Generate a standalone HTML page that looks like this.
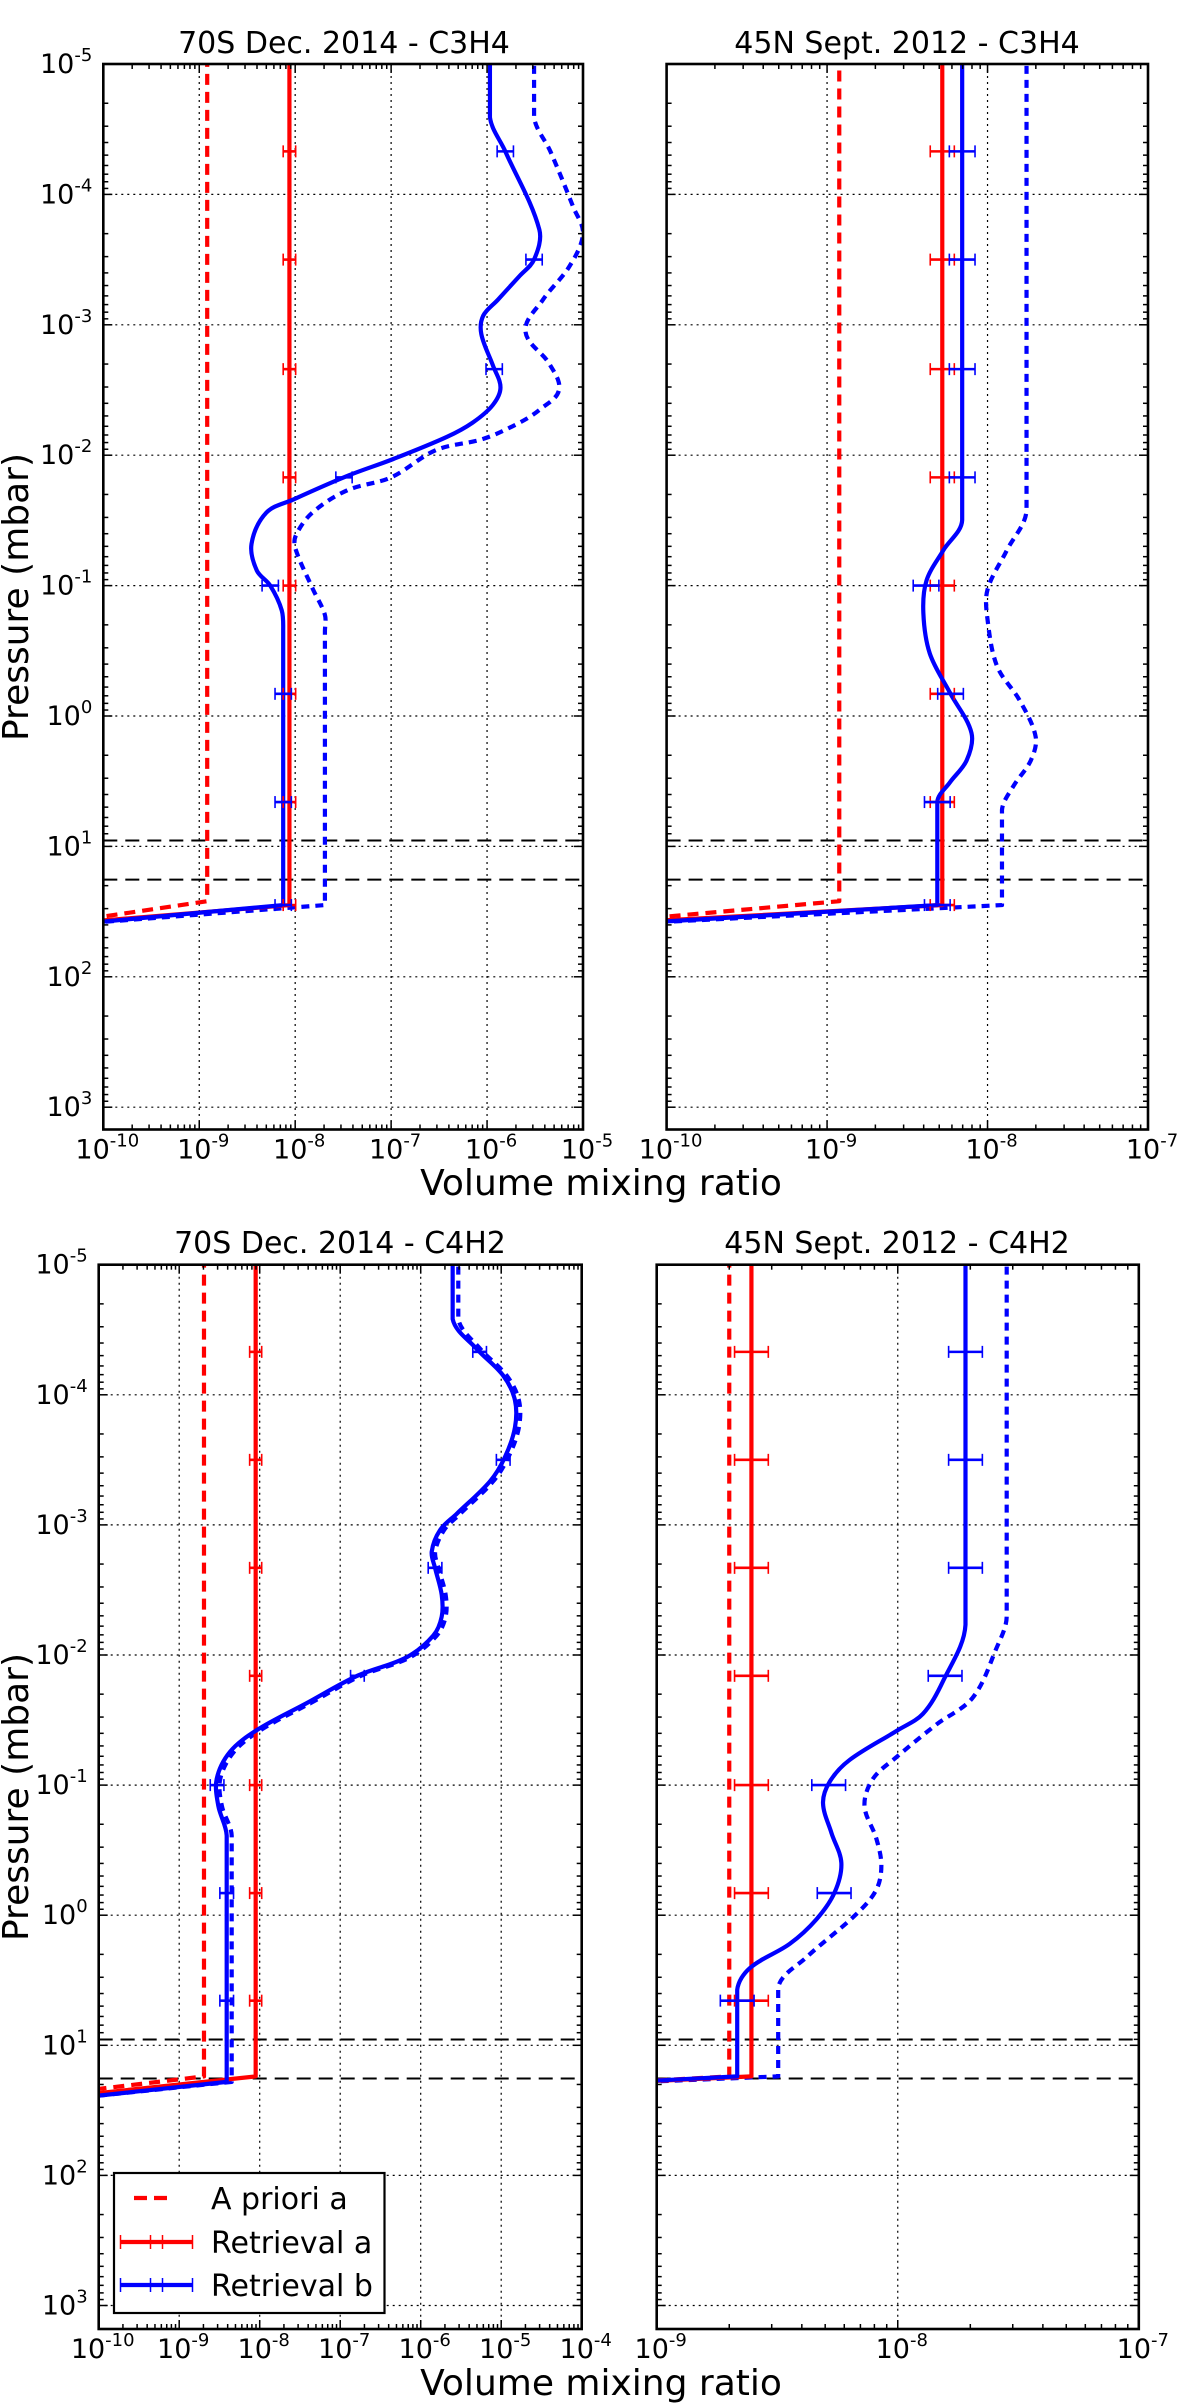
<!DOCTYPE html>
<html><head><meta charset="utf-8"><title>Vertical profiles</title>
<style>
html,body{margin:0;padding:0;background:#fff;}
svg{display:block;font-family:"DejaVu Sans","Liberation Sans",sans-serif;}
</style></head>
<body>
<svg id="fig" width="1200" height="2405" viewBox="0 0 1200 2405" xmlns="http://www.w3.org/2000/svg">
<rect width="1200" height="2405" fill="#fff"/>
<text x="601" y="1195" font-size="36" text-anchor="middle">Volume mixing ratio</text>
<text x="601" y="2395" font-size="36" text-anchor="middle">Volume mixing ratio</text>
<text transform="translate(28,597) rotate(-90)" font-size="36" text-anchor="middle">Pressure (mbar)</text>
<text transform="translate(28,1797) rotate(-90)" font-size="36" text-anchor="middle">Pressure (mbar)</text>
</svg>
<script>
// ---------- DATA (log10 pressure [mbar], log10 volume mixing ratio) ----------
const errPressLogTop = [-4.33,-3.5,-2.66,-1.83,-1.0,-0.17,0.66,1.45];
const errPressLogBottom = [-4.33,-3.5,-2.67,-1.84,-1.0,-0.17,0.657];

// Panel 1: 70S Dec. 2014 - C3H4
const p1AprioriA_P = [-5.2,1.42,1.56];
const p1AprioriA_X = [-8.917,-8.917,-10.2];
const p1RetA_P = [-5.2,1.45,1.58];
const p1RetA_X = [-8.06,-8.06,-10.2];
const p1RetB_P = [-5.2,-4.59,-4.33,-3.73,-3.5,-3.375,-3.19,-3.07,-2.93,-2.69,-2.52,-2.385,-2.25,-2.14,-1.97,-1.84,-1.66,-1.56,-1.32,-1.116,-1.0,-0.81,-0.65,1.45,1.59];
const p1RetB_X = [-5.97,-5.97,-5.81,-5.455,-5.51,-5.66,-5.89,-6.04,-6.06,-5.94,-5.86,-5.94,-6.15,-6.42,-6.98,-7.46,-8.02,-8.30,-8.455,-8.40,-8.26,-8.14,-8.125,-8.125,-10.2];
const p1AprioriB_P = [-5.2,-4.59,-4.33,-3.9,-3.70,-3.45,-3.19,-2.95,-2.7,-2.5,-2.35,-2.25,-2.125,-2.04,-1.83,-1.73,-1.56,-1.39,-1.29,-0.98,-0.775,-0.65,1.45,1.59];
const p1AprioriB_X = [-5.51,-5.51,-5.34,-5.1,-5.0,-5.14,-5.42,-5.6,-5.35,-5.25,-5.45,-5.66,-6.04,-6.53,-7.0,-7.46,-7.82,-7.99,-8.0,-7.82,-7.69,-7.69,-7.69,-10.2];
const p1ErrA = 0.065, p1ErrB = 0.085;

// Panel 2: 45N Sept. 2012 - C3H4
const p2AprioriA_P = [-4.95,1.42,1.56];
const p2AprioriA_X = [-8.924,-8.924,-10.2];
const p2RetA_P = [-5.2,1.45,1.58];
const p2RetA_X = [-8.282,-8.282,-10.2];
const p2RetB_P = [-5.2,-1.503,-1.27,-1.04,-0.79,-0.48,-0.18,0.13,0.34,0.51,0.657,1.45,1.59];
const p2RetB_X = [-8.158,-8.158,-8.276,-8.38,-8.40,-8.36,-8.235,-8.10,-8.13,-8.235,-8.313,-8.313,-10.2];
const p2AprioriB_P = [-5.2,-1.58,-1.27,-0.97,-0.74,-0.38,-0.12,0.16,0.34,0.54,0.72,1.45,1.59];
const p2AprioriB_X = [-7.757,-7.757,-7.88,-8.0,-8.0,-7.94,-7.80,-7.70,-7.73,-7.84,-7.91,-7.91,-10.2];
const p2ErrA = 0.075, p2ErrB = 0.08;

// Panel 3: 70S Dec. 2014 - C4H2
const p3AprioriA_P = [-5.2,1.239,1.35];
const p3AprioriA_X = [-8.692,-8.692,-10.2];
const p3RetA_P = [-5.2,1.239,1.38];
const p3RetA_X = [-8.05,-8.05,-10.2];
const p3RetB_P = [-5.2,-4.582,-4.353,-4.146,-3.958,-3.75,-3.522,-3.335,-3.085,-2.96,-2.794,-2.67,-2.462,-2.295,-2.15,-1.983,-1.838,-1.63,-1.422,-1.256,-1.048,-0.84,-0.611,1.281,1.40];
const p3RetB_X = [-5.603,-5.603,-5.305,-4.973,-4.829,-4.829,-4.953,-5.139,-5.553,-5.76,-5.863,-5.822,-5.739,-5.739,-5.843,-6.174,-6.795,-7.416,-8.037,-8.369,-8.534,-8.514,-8.41,-8.41,-10.2];
const p3AprioriB_P = [-5.2,-4.582,-4.353,-4.146,-3.958,-3.75,-3.522,-3.335,-3.085,-2.96,-2.794,-2.67,-2.462,-2.295,-2.15,-1.983,-1.838,-1.63,-1.422,-1.256,-1.048,-0.84,-0.611,1.281,1.40];
const p3AprioriB_X = [-5.533,-5.533,-5.26,-4.93,-4.78,-4.78,-4.91,-5.10,-5.51,-5.71,-5.82,-5.78,-5.69,-5.69,-5.80,-6.13,-6.75,-7.37,-7.99,-8.32,-8.49,-8.47,-8.348,-8.348,-10.2];
const p3ErrA = 0.075, p3ErrB = 0.085;

// Panel 4: 45N Sept. 2012 - C4H2
const p4AprioriA_P = [-5.2,1.239,1.30];
const p4AprioriA_X = [-8.699,-8.699,-9.3];
const p4RetA_P = [-5.2,1.239,1.30];
const p4RetA_X = [-8.607,-8.607,-9.3];
const p4RetB_P = [-5.2,-2.233,-1.796,-1.547,-1.422,-1.193,-1.027,-0.861,-0.632,-0.403,-0.175,0.033,0.22,0.407,0.574,1.239,1.30];
const p4RetB_X = [-7.719,-7.719,-7.813,-7.896,-8.0,-8.2,-8.282,-8.31,-8.275,-8.234,-8.262,-8.338,-8.448,-8.614,-8.666,-8.666,-9.3];
const p4AprioriB_P = [-5.2,-2.295,-2.046,-1.672,-1.464,-1.214,-1.048,-0.84,-0.59,-0.383,-0.195,-0.008,0.324,0.553,1.239,1.30];
const p4AprioriB_X = [-7.548,-7.548,-7.592,-7.689,-7.841,-8.006,-8.103,-8.138,-8.089,-8.068,-8.089,-8.172,-8.379,-8.496,-8.496,-9.3];
const p4ErrA = 0.07, p4ErrB = 0.07;

const boundaryLinesP = [0.955, 1.255];
const yTickExps = [-5,-4,-3,-2,-1,0,1,2,3];

// ---------- RENDERING ----------
const NS = "http://www.w3.org/2000/svg";
const svg = document.getElementById('fig');
function mk(tag, attrs, parent){const e=document.createElementNS(NS,tag);for(const k in attrs)e.setAttribute(k,attrs[k]);(parent||svg).appendChild(e);return e;}

const panels = [
 {id:'p1', title:'70S Dec. 2014 - C3H4', left:103.3, right:583, xMin:-10, xMax:-5, top:64, dec:130.4, bottom:1129.5, yLabels:true, titleX:344, titleY:53,
  aA:[p1AprioriA_P,p1AprioriA_X], rA:[p1RetA_P,p1RetA_X], rB:[p1RetB_P,p1RetB_X], aB:[p1AprioriB_P,p1AprioriB_X], eA:p1ErrA, eB:p1ErrB, errP:errPressLogTop},
 {id:'p2', title:'45N Sept. 2012 - C3H4', left:666.6, right:1148, xMin:-10, xMax:-7, top:64, dec:130.4, bottom:1129.5, yLabels:false, titleX:907, titleY:53,
  aA:[p2AprioriA_P,p2AprioriA_X], rA:[p2RetA_P,p2RetA_X], rB:[p2RetB_P,p2RetB_X], aB:[p2AprioriB_P,p2AprioriB_X], eA:p2ErrA, eB:p2ErrB, errP:errPressLogTop},
 {id:'p3', title:'70S Dec. 2014 - C4H2', left:98.7, right:581.7, xMin:-10, xMax:-4, top:1264.7, dec:130.1, bottom:2329, yLabels:true, titleX:340, titleY:1253,
  aA:[p3AprioriA_P,p3AprioriA_X], rA:[p3RetA_P,p3RetA_X], rB:[p3RetB_P,p3RetB_X], aB:[p3AprioriB_P,p3AprioriB_X], eA:p3ErrA, eB:p3ErrB, errP:errPressLogBottom},
 {id:'p4', title:'45N Sept. 2012 - C4H2', left:656.7, right:1138.8, xMin:-9, xMax:-7, top:1264.7, dec:130.1, bottom:2329, yLabels:false, titleX:897, titleY:1253,
  aA:[p4AprioriA_P,p4AprioriA_X], rA:[p4RetA_P,p4RetA_X], rB:[p4RetB_P,p4RetB_X], aB:[p4AprioriB_P,p4AprioriB_X], eA:p4ErrA, eB:p4ErrB, errP:errPressLogBottom}
];

function interp(P, X, p){
  for(let i=0;i<P.length-1;i++){ if(p>=P[i] && p<=P[i+1]){ const t=(p-P[i])/(P[i+1]-P[i]||1); return X[i]+t*(X[i+1]-X[i]); } }
  return X[X.length-1];
}
function tangent(pts, i){
  const n = pts.length;
  const a = pts[Math.max(0,i-1)], b = pts[Math.min(n-1,i+1)];
  let dx = b[0]-a[0], dy = b[1]-a[1];
  const L = Math.hypot(dx,dy) || 1;
  return [dx/L, dy/L];
}
function smoothPath(pts){
  const n = pts.length;
  let d = 'M'+pts[0][0].toFixed(2)+','+pts[0][1].toFixed(2);
  for(let i=0;i<n-1;i++){
    const p1=pts[i], p2=pts[i+1];
    if(i===0 || i>=n-3){ d+=' L'+p2[0].toFixed(2)+','+p2[1].toFixed(2); continue; }
    const len = Math.hypot(p2[0]-p1[0], p2[1]-p1[1])/3;
    const t1 = tangent(pts,i), t2 = tangent(pts,i+1);
    const c1=[p1[0]+t1[0]*len, p1[1]+t1[1]*len];
    const c2=[p2[0]-t2[0]*len, p2[1]-t2[1]*len];
    d+=' C'+c1[0].toFixed(2)+','+c1[1].toFixed(2)+' '+c2[0].toFixed(2)+','+c2[1].toFixed(2)+' '+p2[0].toFixed(2)+','+p2[1].toFixed(2);
  }
  return d;
}
function pow10Label(parent, x, y, exp, anchor, nm){
  const t = mk('text',{x:x,y:y,'font-size':27,'text-anchor':anchor}, parent);
  
  
  t.appendChild(document.createTextNode('10'));
  const s = mk('tspan',{dy:-12,'font-size':18}, t);
  s.textContent = String(exp);
  return t;
}

panels.forEach((P)=>{
  const g = mk('g',{});
  
  
  const xs = v => P.left + (v - P.xMin) * (P.right - P.left) / (P.xMax - P.xMin);
  const ys = v => P.top + (v + 5) * P.dec;
  const W = P.right-P.left, H = P.bottom-P.top;
  const clip = mk('clipPath',{id:'clip-'+P.id}, g);
  mk('rect',{x:P.left,y:P.top,width:W,height:H}, clip);

  const tt = mk('text',{x:P.titleX,y:P.titleY,'font-size':30,'text-anchor':'middle'}, g);
  
  
  tt.textContent = P.title;

  const grid = mk('g',{stroke:'#000','stroke-width':1.2,'stroke-dasharray':'2,4'}, g);
  
  
  for(let e=P.xMin+1;e<P.xMax;e++){ const gl = mk('line',{x1:xs(e),x2:xs(e),y1:P.top,y2:P.bottom}, grid);
    
     }
  yTickExps.forEach(e=>{ if(e>-5){ const gl = mk('line',{x1:P.left,x2:P.right,y1:ys(e),y2:ys(e)}, grid);
    
     }});

  boundaryLinesP.forEach(bp=>{
    const l = mk('line',{x1:P.left,x2:P.right,y1:ys(bp),y2:ys(bp),stroke:'#000','stroke-width':2,'stroke-dasharray':'14,8'}, g);
    
    
  });

  const sg = mk('g',{'clip-path':'url(#clip-'+P.id+')',fill:'none'}, g);
  function series(pair, color, dash, nm){
    const pts = pair[0].map((p,i)=>[xs(pair[1][i]), ys(p)]);
    const path = mk('path',{d:smoothPath(pts),stroke:color,'stroke-width':4.2,'stroke-linejoin':'round'}, sg);
    if(dash) path.setAttribute('stroke-dasharray', dash);
    
    
  }
  series(P.aA,'#ff0000','11,7','a-priori-a-line');
  series(P.aB,'#0000ff','8,6','a-priori-b-line');
  series(P.rA,'#ff0000',null,'retrieval-a-line');
  series(P.rB,'#0000ff',null,'retrieval-b-line');
  function errbars(pair, err, color, nm){
    P.errP.forEach(p=>{
      const xv = interp(pair[0], pair[1], p);
      const y = ys(p), x1 = xs(xv-err), x2 = xs(xv+err);
      const eg = mk('g',{stroke:color,'stroke-width':2.6}, sg);
      
      
      mk('line',{x1:x1,x2:x2,y1:y,y2:y}, eg);
      mk('line',{x1:x1,x2:x1,y1:y-6,y2:y+6,'stroke-width':1.6}, eg);
      mk('line',{x1:x2,x2:x2,y1:y-6,y2:y+6,'stroke-width':1.6}, eg);
    });
  }
  errbars(P.rA, P.eA, '#ff0000', 'retrieval-a-errorbar');
  errbars(P.rB, P.eB, '#0000ff', 'retrieval-b-errorbar');

  const tk = mk('g',{stroke:'#000','stroke-width':1.5}, g);
  
  
  for(let e=P.xMin;e<=P.xMax;e++){
    const x=xs(e);
    mk('line',{x1:x,x2:x,y1:P.bottom,y2:P.bottom-9}, tk);
    mk('line',{x1:x,x2:x,y1:P.top,y2:P.top+9}, tk);
    if(e<P.xMax) for(let m=2;m<=9;m++){ const xm=xs(e+Math.log10(m));
      mk('line',{x1:xm,x2:xm,y1:P.bottom,y2:P.bottom-5}, tk);
      mk('line',{x1:xm,x2:xm,y1:P.top,y2:P.top+5}, tk); }
    pow10Label(g, x+4, P.bottom+29, e, 'middle', 'x-tick-label');
  }
  yTickExps.forEach(e=>{
    const y=ys(e);
    mk('line',{x1:P.left,x2:P.left+9,y1:y,y2:y}, tk);
    mk('line',{x1:P.right,x2:P.right-9,y1:y,y2:y}, tk);
    for(let m=2;m<=9;m++){ const ym=ys(e+Math.log10(m)); if(ym>P.bottom) continue;
      mk('line',{x1:P.left,x2:P.left+5,y1:ym,y2:ym}, tk);
      mk('line',{x1:P.right,x2:P.right-5,y1:ym,y2:ym}, tk); }
    if(P.yLabels) pow10Label(g, P.left-11, y+9, e, 'end', 'y-tick-label');
  });

  const fr = mk('rect',{x:P.left,y:P.top,width:W,height:H,fill:'none',stroke:'#000','stroke-width':2.6}, g);
  
  
});

const lg = mk('g',{});


mk('rect',{x:114,y:2173,width:270.5,height:140,fill:'#fff',stroke:'#000','stroke-width':2.2}, lg);
const legendEntries = [['A priori a','#ff0000',true,2198],['Retrieval a','#ff0000',false,2242],['Retrieval b','#0000ff',false,2285]];
legendEntries.forEach(le=>{
  const eg = mk('g',{}, lg);
  
  
  if(le[2]){
    mk('line',{x1:134,x2:174,y1:le[3],y2:le[3],stroke:le[1],'stroke-width':4.2,'stroke-dasharray':'13,7'}, eg);
  } else {
    mk('line',{x1:120.5,x2:192.5,y1:le[3],y2:le[3],stroke:le[1],'stroke-width':4.2}, eg);
    [120.5,150.5,162.5,192.5].forEach(x=>mk('line',{x1:x,x2:x,y1:le[3]-7,y2:le[3]+7,stroke:le[1],'stroke-width':1.5}, eg));
  }
  const t = mk('text',{x:211,y:le[3]+11,'font-size':30}, eg);
  t.textContent = le[0];
});
</script>
</body></html>
